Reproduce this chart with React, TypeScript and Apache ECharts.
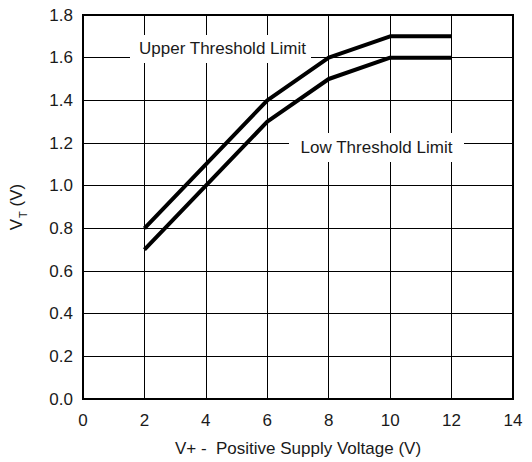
import React, { useEffect, useRef } from "react";
import * as echarts from "echarts";

const xValues = [2, 4, 6, 8, 10, 12];
const upperThreshold = [0.8, 1.1, 1.4, 1.6, 1.7, 1.7];
const lowThreshold = [0.7, 1.0, 1.3, 1.5, 1.6, 1.6];
const seriesNames = ["Upper Threshold Limit", "Low Threshold Limit"];
const xAxisTitle = "V+ -  Positive Supply Voltage (V)";

const FONT = "Liberation Sans, Arial, Helvetica, sans-serif";
const TXT = "#1a1a1a";

export default function App() {
  const ref = useRef<HTMLDivElement>(null);
  useEffect(() => {
    document.body.style.margin = "0";
    if (!ref.current) return;
    const chart = echarts.init(ref.current, undefined, { renderer: "svg" });
    const pairs = (ys: number[]) => xValues.map((x, i) => [x, ys[i]]);
    chart.setOption({
      animation: false,
      backgroundColor: "#fff",
      textStyle: { fontFamily: FONT },
      grid: { left: 80, right: 19, top: 15, bottom: 63, show: true, borderColor: "#000", borderWidth: 2 },
      xAxis: {
        type: "value",
        min: 0,
        max: 14,
        interval: 2,
        name: xAxisTitle,
        nameLocation: "middle",
        nameGap: 41,
        nameTextStyle: { fontSize: 17, color: TXT, fontFamily: FONT },
        axisLine: { show: true, lineStyle: { color: "#000", width: 2 } },
        axisTick: { show: false },
        axisLabel: { fontSize: 17, color: TXT, margin: 13, fontFamily: FONT },
        splitLine: { show: true, lineStyle: { color: "#000", width: 1 } },
      },
      yAxis: {
        type: "value",
        min: 0,
        max: 1.8,
        interval: 0.2,
        name: "{v|V}{s|T}{v| (V)}",
        nameLocation: "middle",
        nameGap: 55,
        nameRotate: 90,
        nameTextStyle: {
          fontSize: 17,
          color: TXT,
          fontFamily: FONT,
          rich: {
            v: { fontSize: 17, color: TXT, fontFamily: FONT },
            s: { fontSize: 11, color: TXT, fontFamily: FONT, padding: [12, 0, 0, 1] },
          },
        },
        axisLine: { show: true, lineStyle: { color: "#000", width: 2 } },
        axisTick: { show: false },
        axisLabel: {
          fontSize: 17,
          color: TXT,
          margin: 10,
          fontFamily: FONT,
          formatter: (v: number) => v.toFixed(1),
        },
        splitLine: { show: true, lineStyle: { color: "#000", width: 1 } },
      },
      series: [
        {
          name: seriesNames[0],
          type: "line",
          data: pairs(upperThreshold),
          showSymbol: false,
          lineStyle: { color: "#000", width: 4 },
          z: 3,
        },
        {
          name: seriesNames[1],
          type: "line",
          data: pairs(lowThreshold),
          showSymbol: false,
          lineStyle: { color: "#000", width: 4 },
          z: 3,
        },
      ],
      graphic: [
        {
          type: "rect",
          shape: { x: 130, y: 35, width: 181, height: 28 },
          style: { fill: "#fff" },
          z: 2,
        },
        {
          type: "text",
          x: 222.5,
          y: 48,
          style: {
            text: seriesNames[0],
            fontSize: 17,
            fontFamily: FONT,
            fill: TXT,
            align: "center",
            verticalAlign: "middle",
          },
          z: 4,
        },
        {
          type: "rect",
          shape: { x: 289, y: 133, width: 175, height: 29 },
          style: { fill: "#fff" },
          z: 2,
        },
        {
          type: "text",
          x: 376.5,
          y: 147,
          style: {
            text: seriesNames[1],
            fontSize: 17,
            fontFamily: FONT,
            fill: TXT,
            align: "center",
            verticalAlign: "middle",
          },
          z: 4,
        },
      ],
    });
    return () => chart.dispose();
  }, []);
  return <div ref={ref} style={{ width: 532, height: 462 }} />;
}
